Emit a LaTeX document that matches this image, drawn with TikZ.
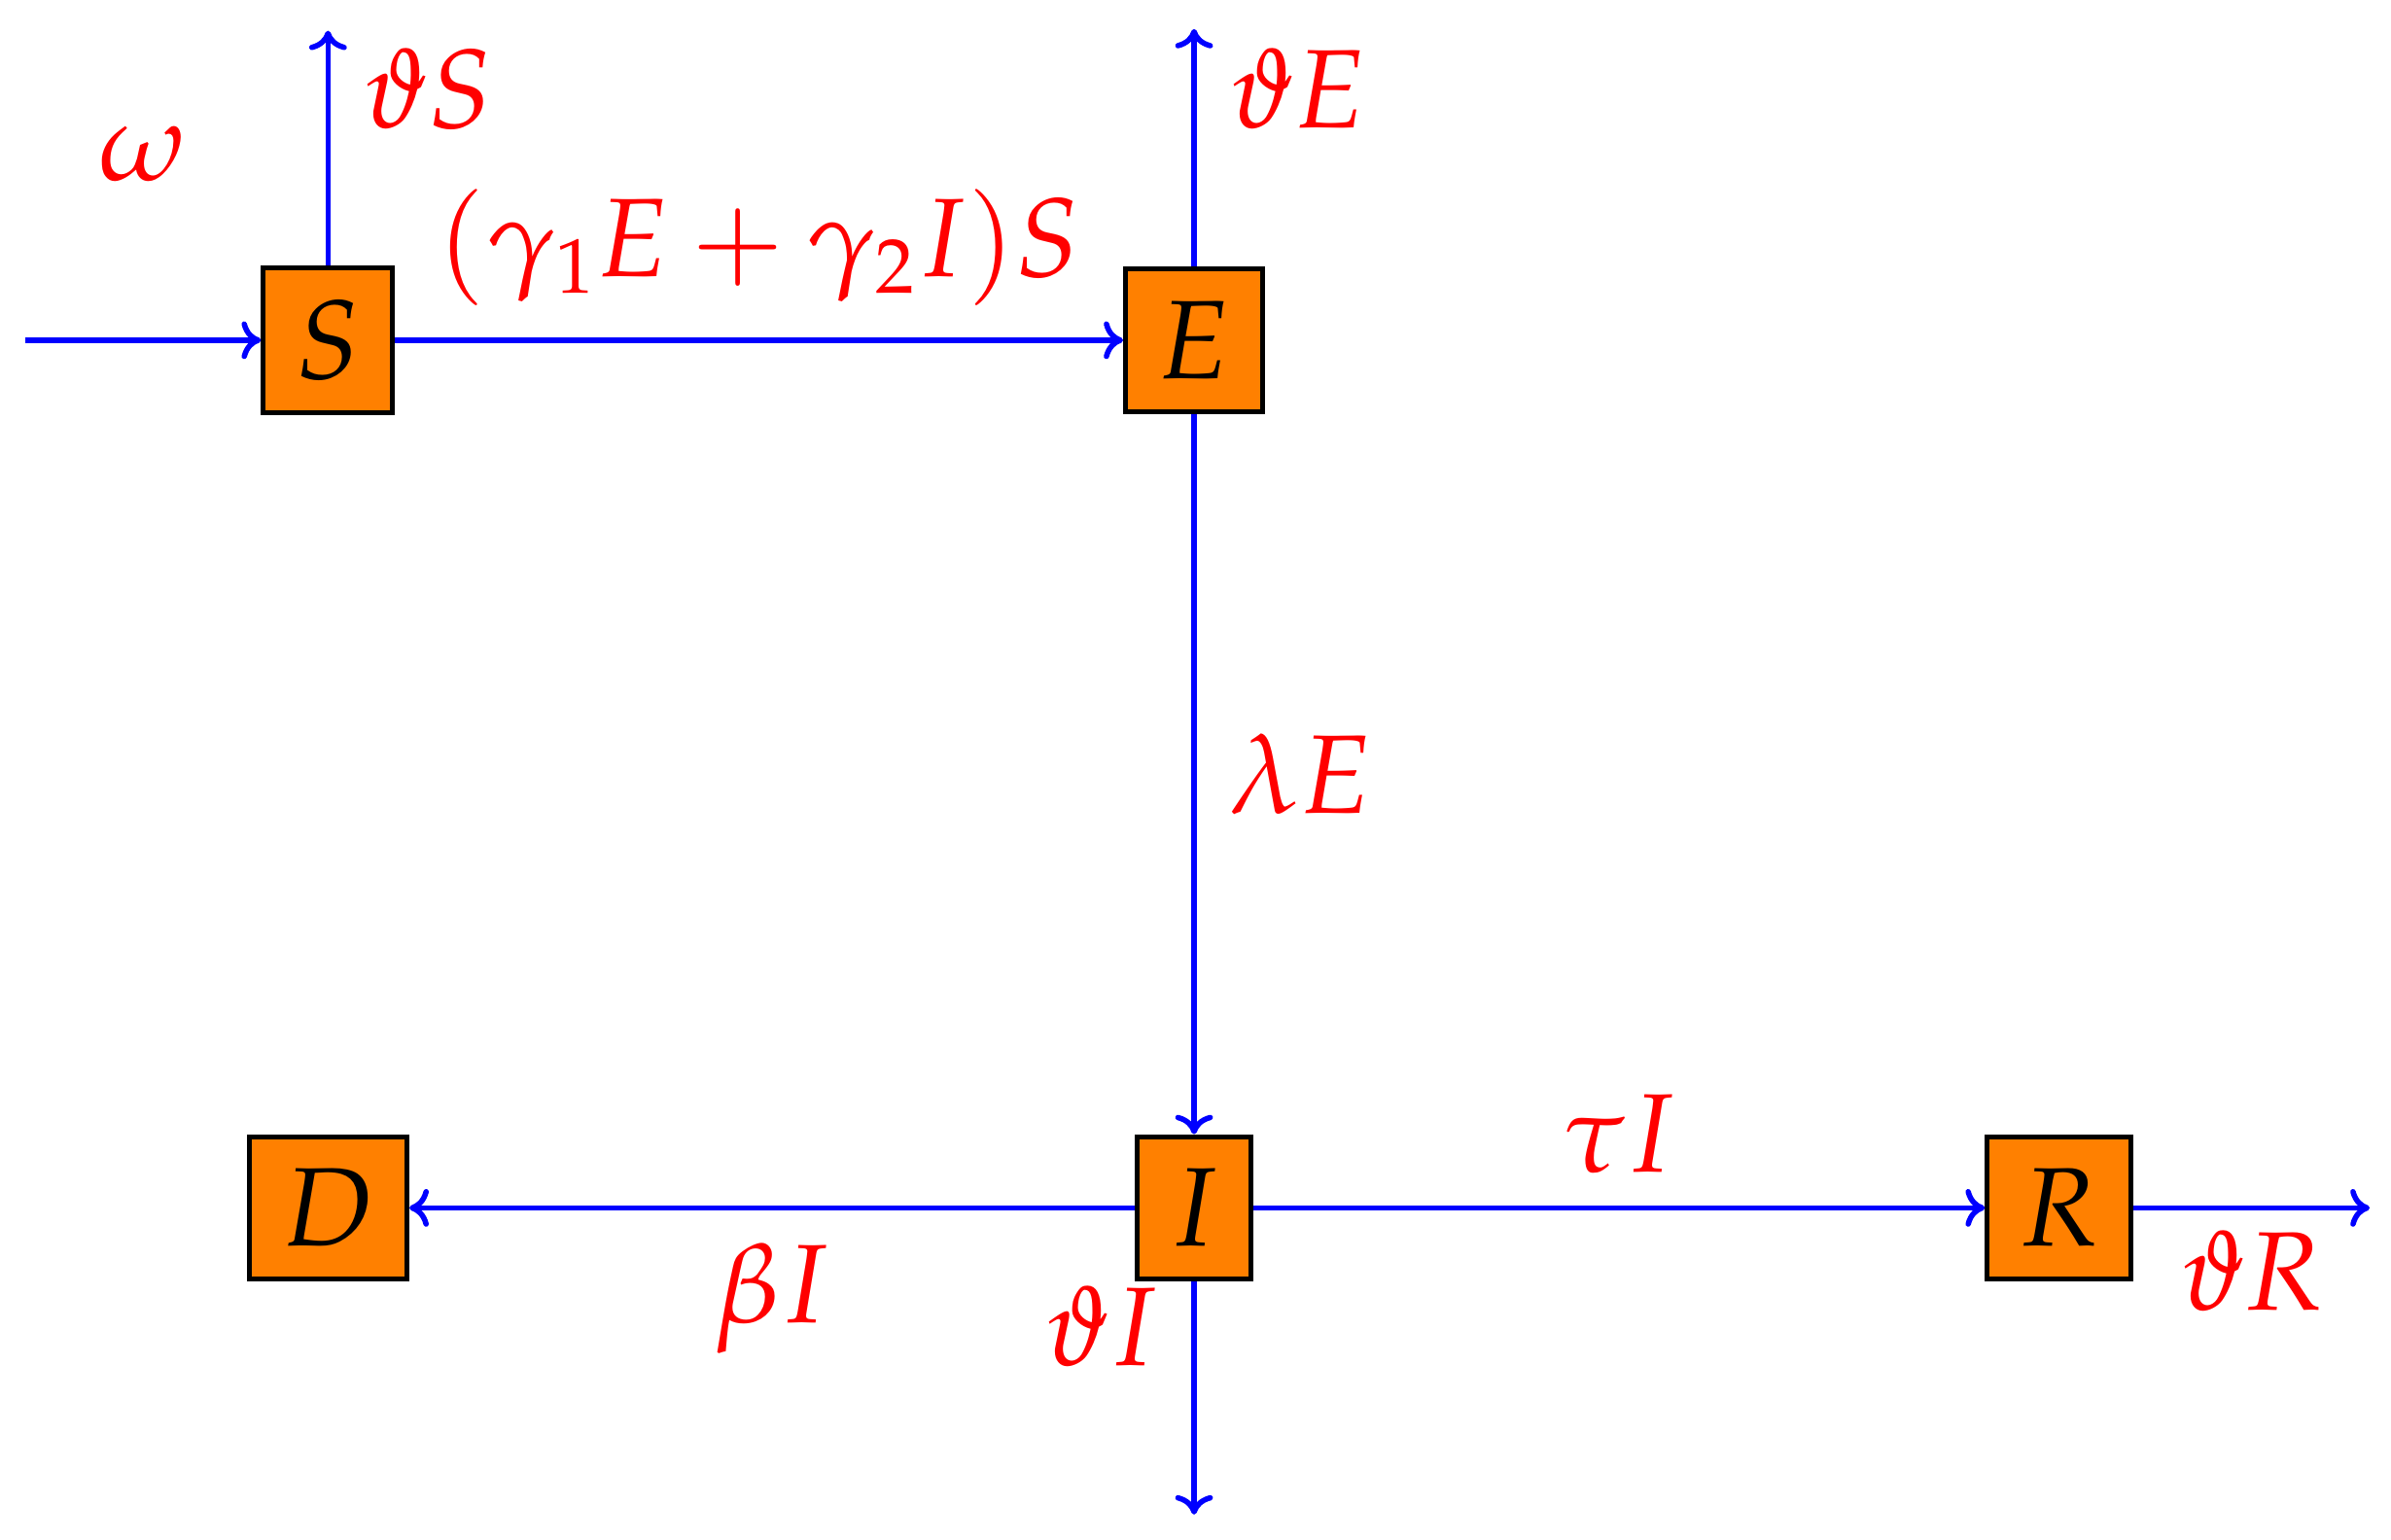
\documentclass[tikz,border=0pt]{standalone}
\usepackage{mathpazo}
\usetikzlibrary{arrows.meta,positioning}

\begin{document}
\begin{tikzpicture}[
    every node/.style={inner sep=0.21cm},
    box/.style={draw, line width=0.9pt, fill=orange, minimum height=0.93cm, font=\huge},
    flow/.style={->, blue, line width=1pt},
    rate/.style={red, font=\huge},
    >={Computer Modern Rightarrow[length=3.6pt, width=7pt]}
  ]
    \useasboundingbox (0,0) rectangle (15.6,-10.045);

    \node[box] (S) at (2.14,-2.22) {$S$};
    \node[box, right=4.75cm of S] (E) {$E$};
    \node[box, below=4.70cm of E] (I) {$I$};
    \node[box, left=4.73cm of I] (D) {$D$};
    \node[box, right=4.77cm of I] (R) {$R$};

    \coordinate[left=1.54cm of S] (inS);
    \coordinate[above=1.53cm of S] (outS);
    \coordinate[above=1.55cm of E] (outE);
    \coordinate[below=1.52cm of I] (outI);
    \coordinate[right=1.54cm of R] (outR);

    \draw[flow] (inS) -- node[rate, above=0.81cm] {$\omega$} (S);
    \draw[flow] (S) -- node[rate, right, pos=0.75] {$\vartheta S$} (outS);
    \draw[flow] (S) -- node[rate, above] {$(\gamma_1 E + \gamma_2 I)S$} (E);
    \draw[flow] (E) -- node[rate, right, pos=0.75] {$\vartheta E$} (outE);
    \draw[flow] (E) -- node[rate, right] {$\lambda E$} (I);
    \draw[flow] (I) -- node[rate, below] {$\beta I$} (D);
    \draw[flow] (I) -- node[rate, above] {$\tau I$} (R);
    \draw[flow] (I) -- node[rate, left, pos=0.19] {$\vartheta I$} (outI);
    \draw[flow] (R) -- node[rate, below=-0.08cm] {$\vartheta R$} (outR);
  \end{tikzpicture}
\end{document}
